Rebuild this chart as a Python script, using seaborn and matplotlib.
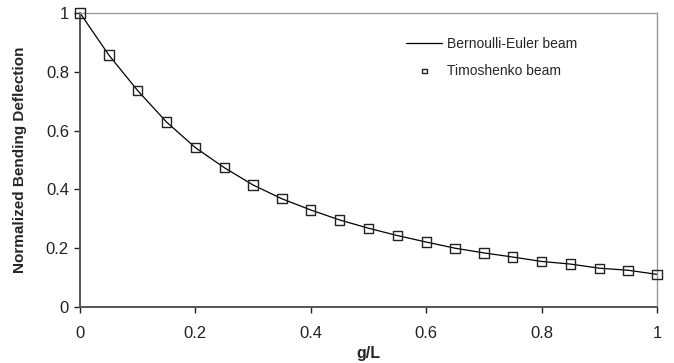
import numpy as np
import pandas as pd
import matplotlib
matplotlib.use("Agg")
import matplotlib.pyplot as plt
import seaborn as sns

g_over_L = [0.0, 0.05, 0.1, 0.15, 0.2, 0.25, 0.3, 0.35, 0.4, 0.45, 0.5,
            0.55, 0.6, 0.65, 0.7, 0.75, 0.8, 0.85, 0.9, 0.95, 1.0]
bernoulli = [1.0, 0.857, 0.736, 0.629, 0.542, 0.474, 0.415, 0.368, 0.330, 0.296, 0.268,
             0.243, 0.221, 0.200, 0.184, 0.170, 0.155, 0.146, 0.132, 0.125, 0.111]
timoshenko = [1.0, 0.857, 0.736, 0.629, 0.542, 0.474, 0.415, 0.368, 0.330, 0.296, 0.268,
              0.243, 0.221, 0.200, 0.184, 0.170, 0.155, 0.146, 0.132, 0.125, 0.111]

df = pd.DataFrame({"g/L": g_over_L, "BE": bernoulli, "TB": timoshenko})

sns.set_theme(style="white")
plt.rcParams["font.family"] = ["Liberation Sans", "DejaVu Sans"]

fig = plt.figure(figsize=(6.74, 3.63), dpi=100)
ax = fig.add_axes([80 / 674, 1 - 307 / 363, 577 / 674, 294 / 363])

sns.lineplot(data=df, x="g/L", y="BE", ax=ax, color="black", linewidth=0.9,
             label="Bernoulli-Euler beam")
sns.scatterplot(data=df, x="g/L", y="TB", ax=ax, marker="s", s=45,
                facecolors="none", edgecolor="#222222", linewidth=1.0,
                label="Timoshenko beam", zorder=3, clip_on=False)

ax.set_xlim(0, 1)
ax.set_ylim(0, 1)
ax.set_xticks([0, 0.2, 0.4, 0.6, 0.8, 1])
ax.set_xticklabels(["0", "0.2", "0.4", "0.6", "0.8", "1"])
ax.set_yticks([0, 0.2, 0.4, 0.6, 0.8, 1])
ax.set_yticklabels(["0", "0.2", "0.4", "0.6", "0.8", "1"])
ax.tick_params(axis="both", labelsize=12, colors="#222222", length=4.5, width=1,
               direction="out", bottom=True, left=True)
ax.tick_params(axis="x", pad=9.5)
ax.tick_params(axis="y", pad=3.5)

for side in ["left", "bottom"]:
    ax.spines[side].set_color("#555555")
    ax.spines[side].set_linewidth(1.4)
for side in ["top", "right"]:
    ax.spines[side].set_color("#999999")
    ax.spines[side].set_linewidth(1.0)

ax.set_xlabel("g/L", fontsize=11.5, fontweight="bold", va="center")
ax.set_ylabel("Normalized Bending Deflection", fontsize=11, fontweight="bold")
ax.xaxis.set_label_coords(0.5, -0.158)
ax.yaxis.set_label_coords(-0.092, 0.5)

leg = ax.legend(loc="upper left", bbox_to_anchor=(0.544, 0.96), frameon=False,
                fontsize=10, handlelength=2.6, handletextpad=0.3, labelspacing=0.9,
                markerscale=0.5)

fig.savefig("out.png", dpi=100)
